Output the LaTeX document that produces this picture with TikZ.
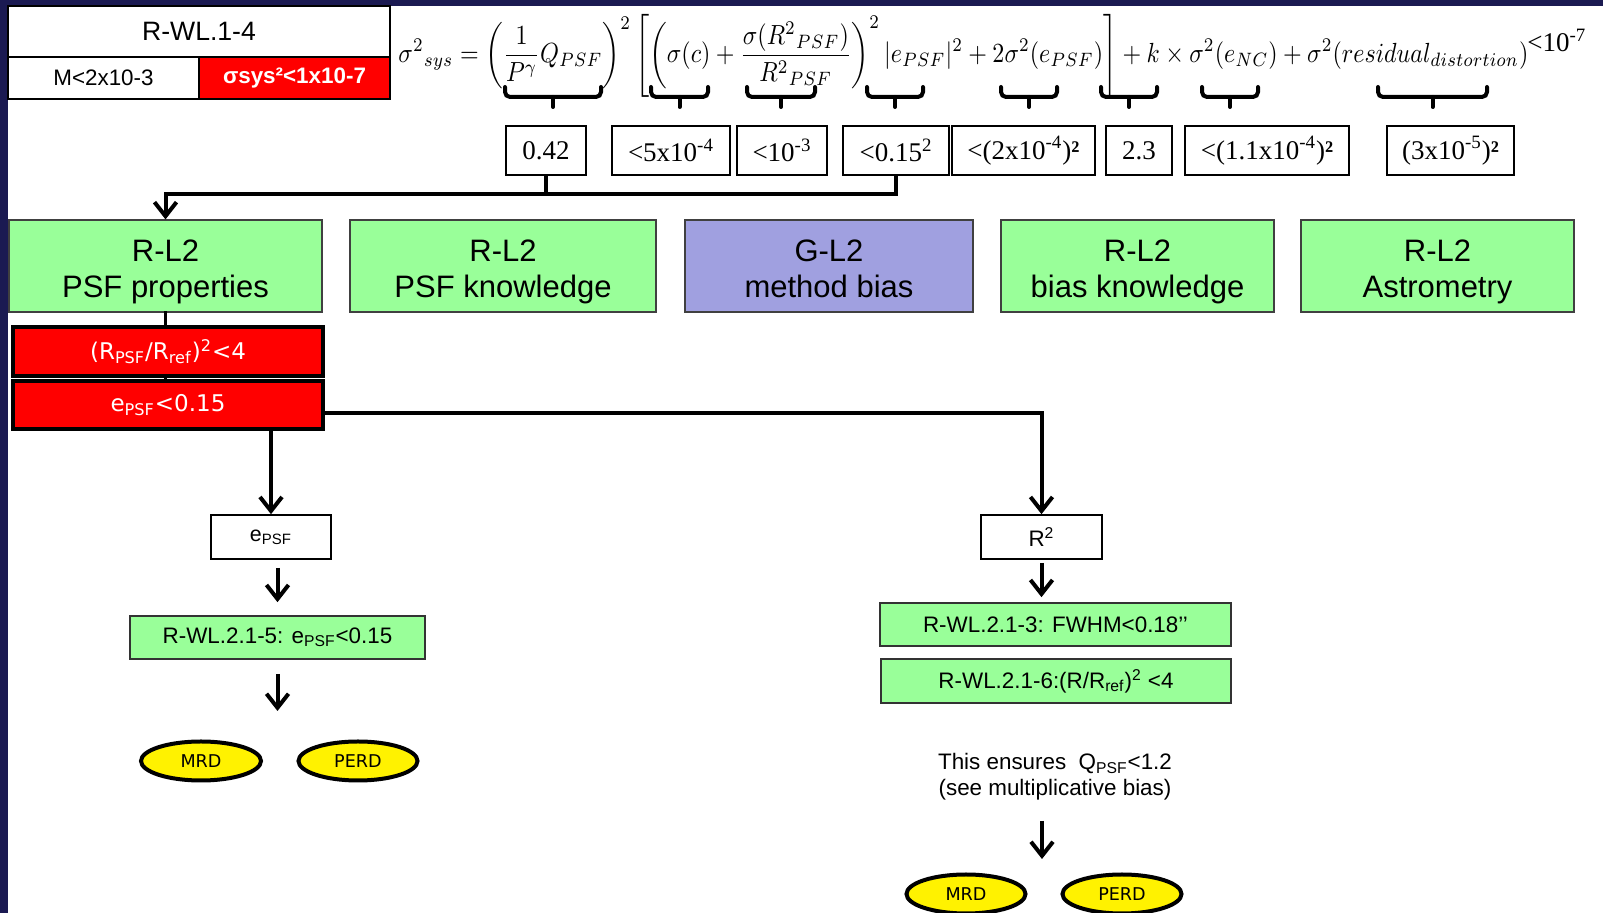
\documentclass[tikz,border=0pt]{standalone}
\usepackage{fontspec}
\usepackage{graphicx}
\setmainfont{Liberation Sans}
\newfontfamily\verdfont{DejaVu Sans}
\newfontfamily\romfont{Liberation Serif}
\usetikzlibrary{arrows.meta,shapes.geometric}

\definecolor{navy}{RGB}{27,26,82}
\definecolor{reqgreen}{RGB}{153,255,153}
\definecolor{goalpurple}{RGB}{160,160,224}

% two-line label of a level-2 box, baselines set a little lower in the box
\newcommand{\ltwo}[2]{\rule{0pt}{19pt}#1\\#2\strut}

\begin{document}
\begin{tikzpicture}[x=0.5pt,y=-0.5pt,
  tblcell/.style={draw=black,line width=0.8pt,inner sep=0pt,
    font=\fontsize{11.2}{13}\selectfont},
  valbox/.style={draw=black,line width=0.75pt,inner sep=0pt,fill=white,
    minimum height=24.5pt,font=\romfont\fontsize{13.5}{16}\selectfont},
  l2box/.style={draw=black!75,line width=0.6pt,fill=reqgreen,inner sep=0pt,
    minimum height=46pt,align=center,font=\fontsize{15.5}{18}\selectfont},
  redbox/.style={draw=black,line width=2pt,fill=red,text=white,inner sep=0pt,
    minimum width=155pt,font=\verdfont\fontsize{11.5}{14}\selectfont},
  plainbox/.style={draw=black,line width=0.8pt,fill=white,inner sep=0pt,
    minimum height=22pt,font=\fontsize{10.7}{13}\selectfont},
  reqbox/.style={draw=black!80,line width=0.8pt,fill=reqgreen,inner sep=0pt,
    font=\fontsize{11.2}{13}\selectfont},
  driver/.style={ellipse,draw=black,line width=2pt,fill=yellow,inner sep=0pt,
    minimum width=60pt,minimum height=19.5pt,font=\verdfont\fontsize{8.8}{10}\selectfont},
  conn/.style={line width=1.6pt,line cap=rect},
  arr/.style={line width=2pt,-{Straight Barb[length=7pt,width=11pt]}},
  termbrace/.style={line width=2pt,rounded corners=2.5pt,line cap=round}]

\clip (0,0) rectangle (1603,913);
\fill[navy] (0,0) rectangle (1603,913);
\fill[white] (8,6) rectangle (1603,913);

% header table
\node[tblcell,minimum width=191pt,minimum height=25.5pt,
  font=\fontsize{13.3}{16}\selectfont] (title) at (199,31.5) {R-WL.1-4};
\node[tblcell,minimum width=95.5pt,minimum height=21pt] (mcell) at (103.5,78) {M<2x10-3};
\node[tblcell,fill=red,text=white,minimum width=95.5pt,minimum height=21pt,
  font=\bfseries\fontsize{11.2}{13}\selectfont] (scell) at (294.5,78) {σsys²<1x10-7};

% error budget equation
\node[anchor=north west,inner sep=0pt] (eq) at (398,14) {\resizebox*{565pt}{41.5pt}{$\displaystyle
  {\sigma^{2}}_{sys}=\left(\frac{1}{P^{\gamma}}Q_{PSF}\right)^{2}
  \left[\left(\sigma(c)+\frac{\sigma({R^{2}}_{PSF})}{{R^{2}}_{PSF}}\right)^{2}
  |e_{PSF}|^{2}+2\sigma^{2}(e_{PSF})\right]+k\times\sigma^{2}(e_{NC})
  +\sigma^{2}(residual_{distortion})$}};
\node[anchor=base west,inner sep=0pt,font=\romfont\fontsize{13.5}{16}\selectfont]
  (lim) at (1527,52) {<10\textsuperscript{-7}};

% braces under the terms
\foreach \a/\b/\c in {505/601/553,651/708/679.5,747/815/781,867/923/895,
    1001/1057/1029,1101/1157/1129,1202/1258/1230,1378/1487/1432.5}{
  \draw[termbrace] (\a,87) -- (\a,97) -- (\b,97) -- (\b,87);
  \draw[termbrace] (\c,97) -- (\c,107);
}

% allocated values
\node[valbox,minimum width=40pt] (v1) at (546,150.5) {0.42};
\node[valbox,minimum width=59pt] (v2) at (671,150.5) {<5x10\textsuperscript{-4}};
\node[valbox,minimum width=45pt] (v3) at (782,150.5) {<10\textsuperscript{-3}};
\node[valbox,minimum width=53pt] (v4) at (896,150.5) {<0.15\textsuperscript{2}};
\node[valbox,minimum width=71.5pt] (v5) at (1023.5,150.5) {<(2x10\textsuperscript{-4}){\bfseries ²}};
\node[valbox,minimum width=33pt] (v6) at (1139,150.5) {2.3};
\node[valbox,minimum width=82pt] (v7) at (1267,150.5) {<(1.1x10\textsuperscript{-4}){\bfseries ²}};
\node[valbox,minimum width=63.5pt] (v8) at (1450.5,150.5) {(3x10\textsuperscript{-5}){\bfseries ²}};

% level-2 requirements
\node[l2box,minimum width=156.5pt] (g1) at (165.5,266) {\ltwo{R-L2}{PSF properties}};
\node[l2box,minimum width=153pt] (g2) at (503,266) {\ltwo{R-L2}{PSF knowledge}};
\node[l2box,minimum width=144pt,fill=goalpurple] (g3) at (829,266) {\ltwo{G-L2}{method bias}};
\node[l2box,minimum width=136.5pt] (g4) at (1137.5,266) {\ltwo{R-L2}{bias knowledge}};
\node[l2box,minimum width=136.5pt] (g5) at (1437.5,266) {\ltwo{R-L2}{Astrometry}};

\coordinate (jn) at (165.5,194);
\draw[conn] (v4.south) |- (jn);
\draw[conn] (v1.south) -- (v1.south |- jn);
\draw[arr] (jn) -- (g1.north);

% PSF property limits
\node[redbox,minimum height=24.5pt] (r1) at (168,351.5)
  {(R\textsubscript{PSF}/R\textsubscript{ref})\textsuperscript{2}<4};
\node[redbox,minimum height=24pt] (r2) at (168,405)
  {e\textsubscript{PSF}<0.15};
\draw[conn] (g1.south) -- (g1.south |- r1.north);
\draw[conn] (g1.south |- r1.south) -- (g1.south |- r2.north);

% ellipticity branch
\node[plainbox,minimum width=60pt] (eb) at (271,537) {e\textsubscript{PSF}};
\node[reqbox,minimum width=147.5pt,minimum height=21.5pt] (wl5) at (277.5,637.5)
  {R-WL.2.1-5: e\textsubscript{PSF}<0.15};
\coordinate (a5) at (277.5,711);
\node[driver] (mrdL) at (201,761) {MRD};
\node[driver,minimum width=59.5pt] (perdL) at (358,761) {PERD};
\draw[arr] (r2.south -| eb.north) -- (eb.north);
\draw[arr,shorten <=4pt,shorten >=6.5pt] (wl5.north |- eb.south) -- (wl5.north);
\draw[arr,shorten <=7pt] (wl5.south) -- (a5);

% size branch
\node[plainbox,minimum width=60.5pt,font=\fontsize{11.2}{13}\selectfont] (rsq) at (1041.5,537) {R\textsuperscript{2}};
\coordinate (rj) at (r2.east |- 0,413);
\draw[arr] (rj) -| (rsq.north);
\node[reqbox,minimum width=175.5pt,minimum height=21.5pt] (wl3) at (1055.5,624.5)
  {R-WL.2.1-3: FWHM<0.18’’};
\node[reqbox,minimum width=175pt,minimum height=22pt] (wl6) at (1056,681)
  {R-WL.2.1-6:(R/R\textsubscript{ref})\textsuperscript{2} <4};
\draw[arr,shorten <=1.5pt,shorten >=2.5pt] (rsq.south) -- (rsq.south |- wl3.north);
\node[align=center,inner sep=0pt,font=\fontsize{11.2}{13}\selectfont] (note) at (1055,777)
  {This ensures\ \ Q\textsubscript{PSF}<1.2\\(see multiplicative bias)};
\coordinate (a3s) at (1042,821);
\coordinate (a3e) at (1042,859);
\draw[arr] (a3s) -- (a3e);
\node[driver,minimum width=59.5pt] (mrdR) at (966,894) {MRD};
\node[driver,minimum width=59.5pt] (perdR) at (1122,894) {PERD};

\end{tikzpicture}
\end{document}
